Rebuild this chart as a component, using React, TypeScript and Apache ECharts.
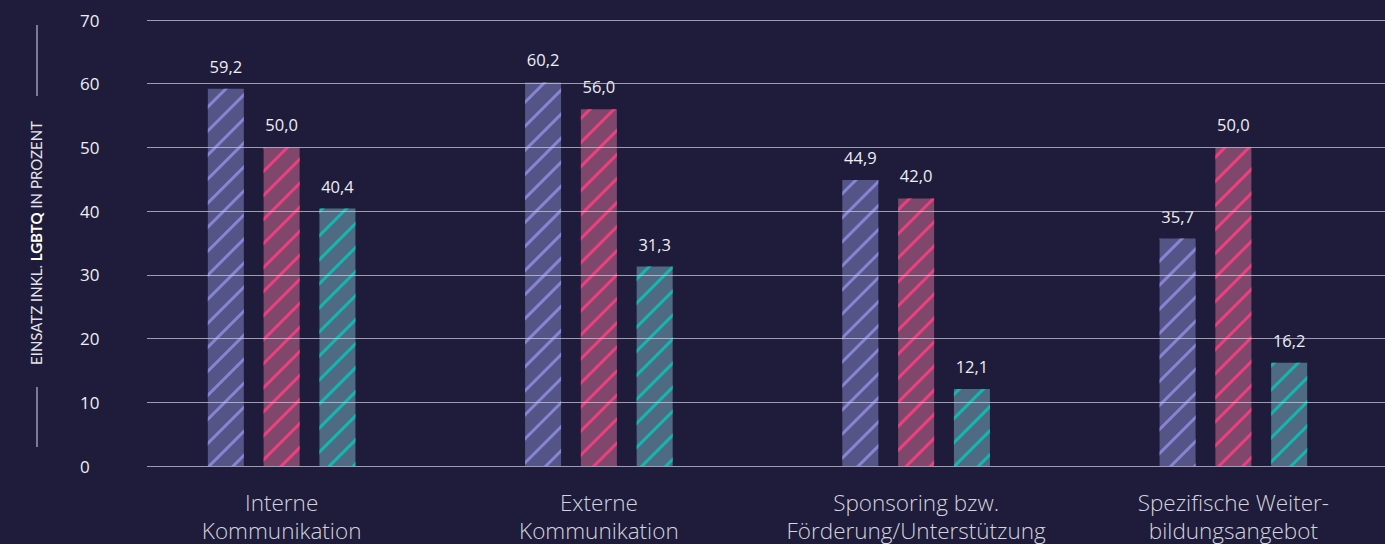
import React, { useEffect, useRef } from "react";
import * as echarts from "echarts";

const categories = [
  "Interne\nKommunikation",
  "Externe\nKommunikation",
  "Sponsoring bzw.\nFörderung/Unterstützung",
  "Spezifische Weiter-\nbildungsangebot",
];
const seriesA = [59.2, 60.2, 44.9, 35.7];
const seriesB = [50.0, 56.0, 42.0, 50.0];
const seriesC = [40.4, 31.3, 12.1, 16.2];
const yTicks = [0, 10, 20, 30, 40, 50, 60, 70];

const BG = "#1e1c3a";
const FONT = "'Open Sans', Lato, 'Noto Sans', sans-serif";
const TITLE_FONT = "Lato, 'Open Sans', sans-serif";

function makeSeries(name: string, data: number[], fill: string, stripe: string) {
  return {
    name,
    type: "bar",
    xAxisIndex: 1,
    yAxisIndex: 1,
    data,
    barWidth: 36,
    barGap: "55%",
    itemStyle: {
      color: fill,
      decal: {
        symbol: "rect",
        color: stripe,
        dashArrayX: [1, 0],
        dashArrayY: [2.5, 14],
        rotation: -Math.PI / 4,
      },
    },
    label: {
      show: true,
      position: "top",
      distance: 14,
      color: "#eeeef4",
      fontSize: 16.5,
      fontFamily: FONT,
      formatter: (p: any) => p.value.toFixed(1).replace(".", ","),
    },
    z: 2,
  };
}

export default function App() {
  const ref = useRef<HTMLDivElement>(null);
  useEffect(() => {
    if (!ref.current) return;
    const chart = echarts.init(ref.current, null, { renderer: "svg" });
    chart.setOption({
      animation: false,
      backgroundColor: BG,
      grid: [
        { left: 147, right: 7, top: 20, bottom: 78 },
        { left: 123, right: -1, top: 20, bottom: 78 },
      ],
      xAxis: [
        { gridIndex: 0, type: "value", show: false },
        {
          gridIndex: 1,
          type: "category",
          data: categories,
          axisLine: { show: false },
          axisTick: { show: false },
          axisLabel: {
            color: "#d4d4de",
            fontSize: 22.5,
            fontWeight: 300,
            lineHeight: 28,
            margin: 22,
            fontFamily: FONT,
            interval: 0,
          },
        },
      ],
      yAxis: [
        {
          gridIndex: 0,
          type: "value",
          min: 0,
          max: 70,
          interval: 10,
          name: "{n|EINSATZ INKL. }{b|LGBTQ}{n| IN PROZENT}",
          nameLocation: "middle",
          nameRotate: 90,
          nameGap: 104,
          nameTextStyle: {
            rich: {
              n: { color: "#e4e4ee", fontSize: 15, fontFamily: TITLE_FONT },
              b: { color: "#ffffff", fontSize: 15, fontWeight: "bold", fontFamily: TITLE_FONT },
            },
          },
          axisLine: { show: false },
          axisTick: { show: false },
          splitLine: { show: false },
          axisLabel: {
            color: "#eeeef4",
            fontSize: 17,
            fontFamily: FONT,
            align: "left",
            margin: 67,
          },
        },
        {
          gridIndex: 1,
          type: "value",
          min: 0,
          max: 70,
          interval: 10,
          show: false,
        },
      ],
      series: [
        makeSeries("Reihe 1", seriesA, "rgba(120,120,180,0.62)", "#8585d4"),
        makeSeries("Reihe 2", seriesB, "rgba(190,100,140,0.6)", "#ec3f7d"),
        makeSeries("Reihe 3", seriesC, "rgba(110,160,180,0.6)", "#12b8ae"),
        {
          type: "line",
          xAxisIndex: 0,
          yAxisIndex: 0,
          data: [],
          z: 10,
          markLine: {
            silent: true,
            symbol: "none",
            label: { show: false },
            lineStyle: { color: "rgba(200,200,215,0.75)", width: 1, type: "solid" },
            data: yTicks.map((v) => ({ yAxis: v })),
          },
        },
      ],
      graphic: [
        {
          type: "line",
          shape: { x1: 37, y1: 25, x2: 37, y2: 96 },
          style: { stroke: "#9a9ab0", lineWidth: 1.5 },
        },
        {
          type: "line",
          shape: { x1: 37, y1: 387, x2: 37, y2: 447 },
          style: { stroke: "#9a9ab0", lineWidth: 1.5 },
        },
      ],
    });
    return () => chart.dispose();
  }, []);
  return (
    <div style={{ width: 1385, height: 544, position: "absolute", left: 0, top: 0, overflow: "hidden" }}>
      <div ref={ref} style={{ width: 1392, height: 544 }} />
    </div>
  );
}
